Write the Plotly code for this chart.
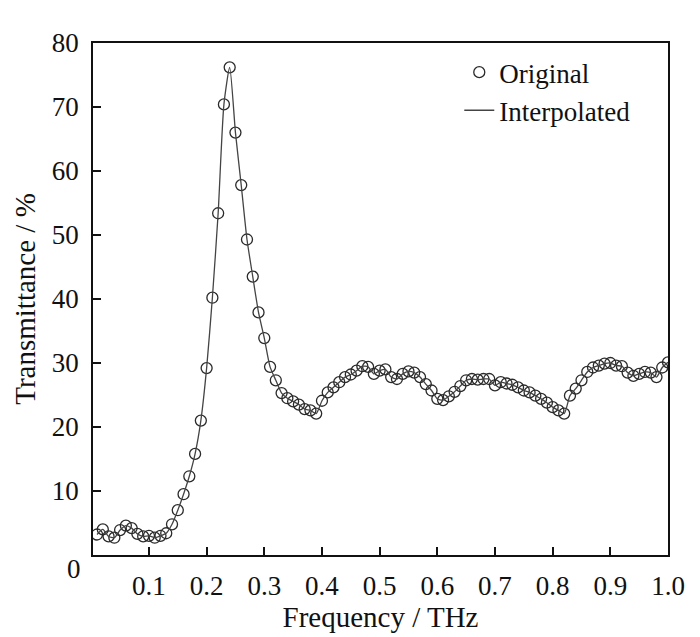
import plotly.graph_objects as go

# frequency samples (THz) and measured transmittance (%)
freq = [round(0.01 * i, 2) for i in range(1, 101)]
trans = [
    3.2, 4.0, 2.9, 2.7, 3.9, 4.6, 4.2, 3.3, 2.9, 3.0,
    2.7, 3.0, 3.4, 4.8, 7.0, 9.5, 12.3, 15.8, 21.0, 29.2,
    40.2, 53.4, 70.4, 76.2, 66.0, 57.8, 49.3, 43.5, 37.9, 33.9,
    29.4, 27.3, 25.3, 24.5, 24.0, 23.5, 22.8, 22.6, 22.1, 24.1,
    25.4, 26.2, 27.0, 27.8, 28.2, 28.8, 29.5, 29.4, 28.3, 28.8,
    29.0, 27.8, 27.5, 28.3, 28.7, 28.5, 27.8, 26.7, 25.7, 24.4,
    24.2, 24.8, 25.5, 26.4, 27.3, 27.5, 27.4, 27.5, 27.5, 26.5,
    27.0, 26.8, 26.6, 26.2, 25.7, 25.4, 24.9, 24.4, 23.8, 23.1,
    22.6, 22.1, 24.9, 26.0, 27.3, 28.6, 29.3, 29.6, 29.9, 30.0,
    29.6, 29.5, 28.5, 28.0, 28.3, 28.6, 28.5, 27.8, 29.3, 30.1,
]

x_ticks = [0.1, 0.2, 0.3, 0.4, 0.5, 0.6, 0.7, 0.8, 0.9, 1.0]
x_ticktext = ["0.1", "0.2", "0.3", "0.4", "0.5", "0.6", "0.7", "0.8", "0.9", "1.0"]
y_ticks = [10, 20, 30, 40, 50, 60, 70, 80]

FONT = "Liberation Serif, Times New Roman, serif"
INK = "#111111"

fig = go.Figure()

fig.add_trace(
    go.Scatter(
        x=freq,
        y=trans,
        mode="markers",
        name="Original",
        marker=dict(
            symbol="circle-open",
            size=11,
            color="#2a2a2a",
            line=dict(width=1.3, color="#2a2a2a"),
        ),
    )
)

fig.add_trace(
    go.Scatter(
        x=freq,
        y=trans,
        mode="lines",
        name="Interpolated",
        line=dict(color="#444444", width=1.3, shape="spline", smoothing=0.6),
    )
)

# the page body adds an 8px margin, so the figure is a bit smaller than the window
fig.update_layout(
    width=692,
    height=629,
    margin=dict(l=85, r=32, t=35, b=80),
    paper_bgcolor="white",
    plot_bgcolor="white",
    font=dict(family=FONT, size=27, color=INK),
    showlegend=True,
    legend=dict(
        x=0.637,
        y=0.99,
        xanchor="left",
        yanchor="top",
        bgcolor="rgba(0,0,0,0)",
        font=dict(family=FONT, size=27, color=INK),
        tracegroupgap=0,
        itemwidth=30,
    ),
    xaxis=dict(
        range=[0.003, 1.0],
        tickmode="array",
        tickvals=x_ticks,
        ticktext=x_ticktext,
        ticks="inside",
        ticklen=8,
        tickwidth=1.5,
        tickcolor=INK,
        ticklabelstandoff=6,
        showline=True,
        linecolor=INK,
        linewidth=1.5,
        mirror=True,
        showgrid=False,
        zeroline=False,
        title=dict(text="Frequency / THz", standoff=4, font=dict(size=29)),
    ),
    yaxis=dict(
        range=[0, 80],
        tickmode="array",
        tickvals=y_ticks,
        ticks="inside",
        ticklen=8,
        tickwidth=1.5,
        tickcolor=INK,
        ticklabelstandoff=7,
        showline=True,
        linecolor=INK,
        linewidth=1.5,
        mirror=True,
        showgrid=False,
        zeroline=False,
        title=dict(text="Transmittance / %", standoff=8, font=dict(size=29)),
    ),
)

# shared origin label at the bottom-left corner
fig.add_annotation(
    x=0,
    y=0,
    xref="paper",
    yref="paper",
    text="0",
    showarrow=False,
    xanchor="right",
    yanchor="middle",
    xshift=-10,
    yshift=-14,
    font=dict(family=FONT, size=27, color=INK),
)

fig.write_html("out.html")
